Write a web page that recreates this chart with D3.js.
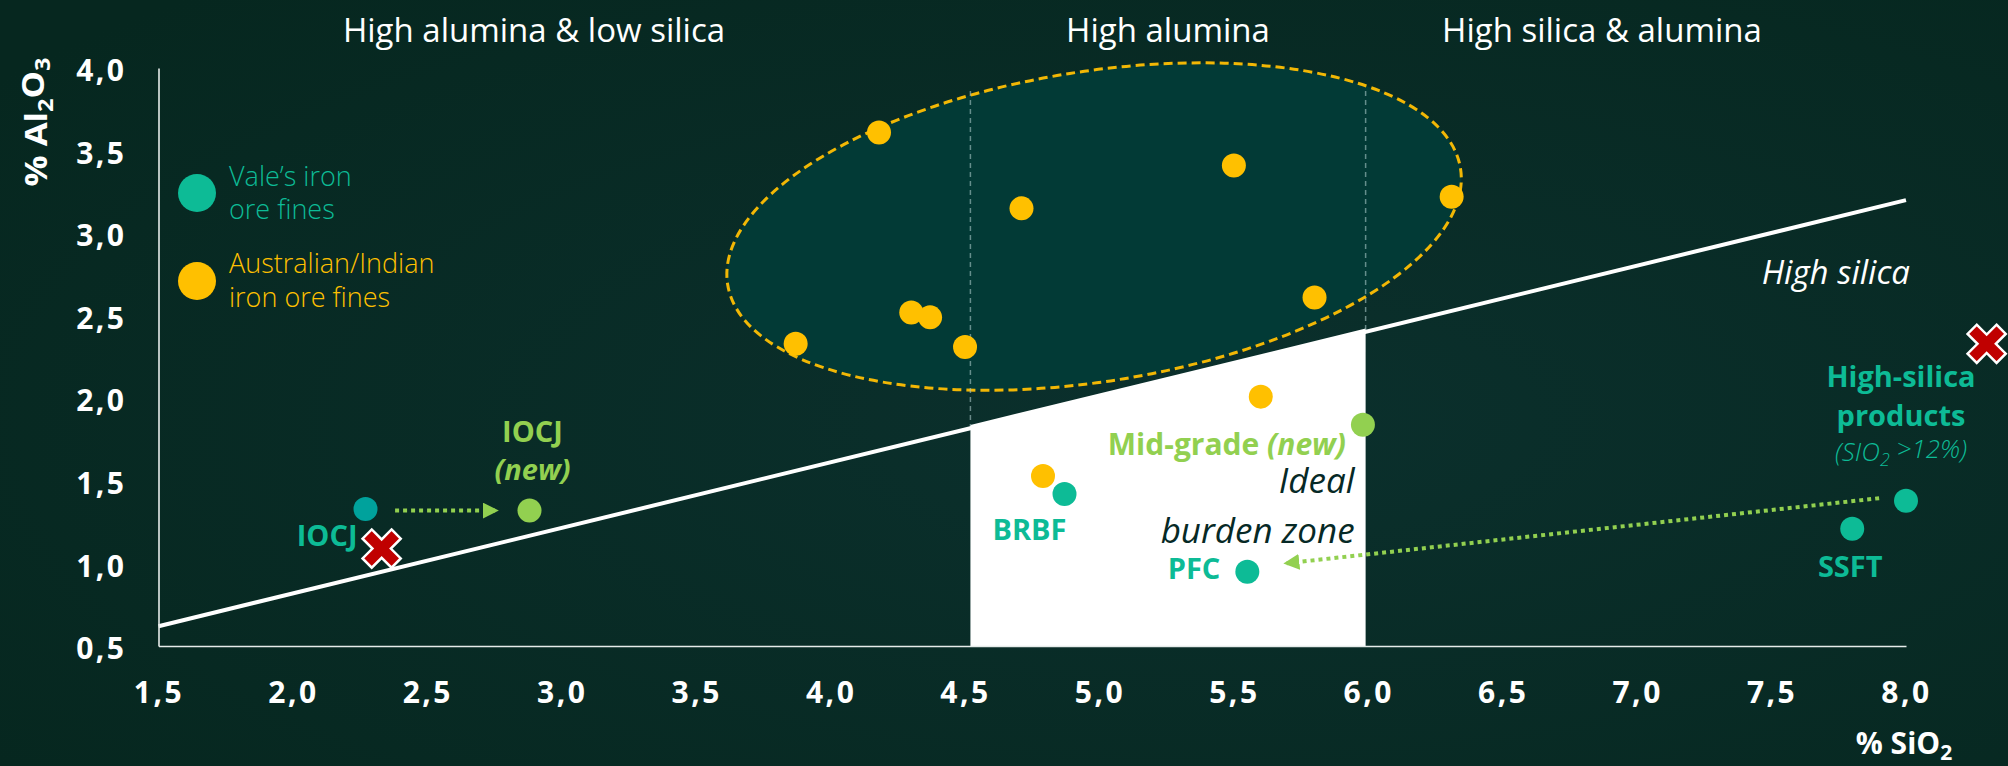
<!DOCTYPE html>
<html><head><meta charset="utf-8">
<script src="https://cdn.jsdelivr.net/npm/d3@7"></script>
<style>
html,body{margin:0;padding:0;background:#082c29;}
svg{display:block;font-family:"Open Sans","Noto Sans",sans-serif;}
</style></head><body>
<svg id="c" width="2008" height="766"></svg>
<script>
// ---------- data ----------
const xTicks = [1.5,2.0,2.5,3.0,3.5,4.0,4.5,5.0,5.5,6.0,6.5,7.0,7.5,8.0];
const yTicks = [0.5,1.0,1.5,2.0,2.5,3.0,3.5,4.0];
const zoneTitles = ["High alumina & low silica","High alumina","High silica & alumina"];
// Vale's iron ore fines  [SiO2, Al2O3, name]
const valeFines = [
  [4.87,1.42,"BRBF"],
  [5.55,0.95,"PFC"],
  [7.80,1.21,"SSFT"],
  [8.00,1.38,"High-silica"]
];
const valeIOCJ = [[2.27,1.33,"IOCJ"]];
// Australian/Indian iron ore fines
const ausIndFines = [
  [4.18,3.61],[4.71,3.15],[5.50,3.41],[6.31,3.22],[5.80,2.61],
  [4.30,2.52],[4.37,2.49],[3.87,2.33],[4.50,2.31],[5.60,2.01],[4.79,1.53]
];
// new Vale products
const newProducts = [[2.88,1.32,"IOCJ"],[5.98,1.84,"Mid-grade"]];
// red crosses
const crosses = [[2.33,1.09],[8.30,2.33]];
// high-silica boundary line
const boundary = [[1.5,0.62],[8.0,3.20]];
// ideal burden zone SiO2 limits
const idealSiO2 = [4.52,5.99];
const dashedTop = 3.86;
// arrows [from, to]
const arrows = [
  [[2.38,1.32],[2.76,1.32]],
  [[7.90,1.395],[5.69,1.00]]
];
// ellipse around Australian/Indian cluster (center in data units)
const ellipseCenter = [4.98,3.04];

// ---------- colours ----------
const C = {ell:"#023a36", teal:"#0dbb96", tealDark:"#00a29c",
  yellow:"#ffc000", green:"#92d050", red:"#c00000", dark:"#062926", white:"#ffffff"};

const svg = d3.select("#c");
const defs = svg.append("defs");
const rg = defs.append("radialGradient").attr("id","bgg").attr("cx","60%").attr("cy","55%").attr("r","75%");
rg.append("stop").attr("offset","0%").attr("stop-color","#0b302d");
rg.append("stop").attr("offset","100%").attr("stop-color","#06271f");
svg.append("rect").attr("width",2008).attr("height",766).attr("fill","url(#bgg)");

const x = d3.scaleLinear().domain([1.5,8.0]).range([158.5,1906]);
const y = d3.scaleLinear().domain([0.5,4.0]).range([646,68]);
const fmt = d3.formatLocale({decimal:",",thousands:".",grouping:[3],currency:["",""]}).format(".1f");
const lineY = v => boundary[0][1] + (v-boundary[0][0])*(boundary[1][1]-boundary[0][1])/(boundary[1][0]-boundary[0][0]);

// ellipse
svg.append("ellipse")
  .attr("cx",0).attr("cy",0).attr("rx",371).attr("ry",155)
  .attr("transform",`translate(${x(ellipseCenter[0])},${y(ellipseCenter[1])}) rotate(-9)`)
  .attr("fill",C.ell).attr("stroke","#f2b705").attr("stroke-width",3).attr("stroke-dasharray","9 5");

// ideal zone
const zonePts = [[idealSiO2[0],0.5],[idealSiO2[0],lineY(idealSiO2[0])+0.02],[idealSiO2[1],lineY(idealSiO2[1])+0.02],[idealSiO2[1],0.5]];
svg.append("path").attr("d",d3.line().x(d=>x(d[0])).y(d=>y(d[1]))(zonePts)+"Z").attr("fill",C.white);

// dashed verticals
svg.selectAll(".vd").data(idealSiO2).join("line")
  .attr("x1",d=>x(d)).attr("x2",d=>x(d)).attr("y1",y(dashedTop)).attr("y2",d=>y(lineY(d)))
  .attr("stroke","#a9c6c6").attr("stroke-opacity",0.6).attr("stroke-width",1.5).attr("stroke-dasharray","5 4");

// boundary line
svg.append("path").attr("d",d3.line().x(d=>x(d[0])).y(d=>y(d[1]))(boundary))
  .attr("stroke",C.white).attr("stroke-width",4).attr("fill","none");

// axes
const ax = svg.append("g").attr("transform","translate(0,646)")
  .call(d3.axisBottom(x).tickValues(xTicks).tickFormat(fmt).tickSize(0).tickSizeOuter(0).tickPadding(36));
const ay = svg.append("g").attr("transform","translate(158.5,0)")
  .call(d3.axisLeft(y).tickValues(yTicks).tickFormat(fmt).tickSize(0).tickSizeOuter(0).tickPadding(32));
[ax,ay].forEach(g=>{
  g.select(".domain").attr("stroke","#e6ecea").attr("stroke-width",1.6);
  g.selectAll("text").attr("fill",C.white).attr("font-size",30).attr("font-weight",700)
    .attr("letter-spacing",2.5).attr("font-family",'"Open Sans",sans-serif');
});
ay.selectAll("text").attr("dy","0.42em");

// arrows
defs.append("marker").attr("id","ah").attr("viewBox","0 0 10 10").attr("refX",9).attr("refY",5)
  .attr("markerWidth",16).attr("markerHeight",16).attr("markerUnits","userSpaceOnUse").attr("orient","auto")
  .append("path").attr("d","M0,0L10,5L0,10Z").attr("fill",C.green);
svg.selectAll(".arr").data(arrows).join("line")
  .attr("x1",d=>x(d[0][0])).attr("y1",d=>y(d[0][1])).attr("x2",d=>x(d[1][0])).attr("y2",d=>y(d[1][1]))
  .attr("stroke",C.green).attr("stroke-width",4).attr("stroke-dasharray","4 4").attr("marker-end","url(#ah)");

// dots
const dot = (data,fill,r=12)=>svg.append("g").selectAll("circle").data(data).join("circle")
  .attr("cx",d=>x(d[0])).attr("cy",d=>y(d[1])).attr("r",r).attr("fill",fill);
dot(ausIndFines,C.yellow);
dot(valeFines,C.teal);
dot(valeIOCJ,C.tealDark);
dot(newProducts,C.green);

// crosses
const L=20.5,w=6.5;
const plus = `M${-w},${-L}H${w}V${-w}H${L}V${w}H${w}V${L}H${-w}V${w}H${-L}V${-w}H${-w}Z`;
svg.selectAll(".cr").data(crosses).join("path")
  .attr("d",plus).attr("transform",d=>`translate(${x(d[0])},${y(d[1])}) rotate(45)`)
  .attr("fill",C.red).attr("stroke",C.white).attr("stroke-width",2.5).attr("stroke-linejoin","miter");

// ---------- texts ----------
const T = (px,py,txt,o={})=>svg.append("text").attr("x",px).attr("y",py).attr("dy","0.35em")
  .attr("text-anchor",o.anchor||"middle").attr("fill",o.fill||C.white)
  .attr("font-size",o.size||29).attr("font-weight",o.weight||400).attr("font-style",o.style||"normal").text(txt);

// zone titles
T(534,30,zoneTitles[0],{size:33});
T(1168,30,zoneTitles[1],{size:33});
T(1602,30,zoneTitles[2],{size:33});
T(1910,272,"High silica",{anchor:"end",size:33,style:"italic"});

// legend
svg.append("circle").attr("cx",197).attr("cy",193).attr("r",19).attr("fill",C.teal);
svg.append("circle").attr("cx",197).attr("cy",281).attr("r",19).attr("fill",C.yellow);
T(229,177,"Vale’s iron",{anchor:"start",fill:C.teal,size:27,weight:300});
T(229,210,"ore fines",{anchor:"start",fill:C.teal,size:27,weight:300});
T(229,264,"Australian/Indian",{anchor:"start",fill:C.yellow,size:27,weight:300});
T(229,298,"iron ore fines",{anchor:"start",fill:C.yellow,size:27,weight:300});

// point labels
const px = d=>x(d[0]), py = d=>y(d[1]);
T(px(valeIOCJ[0])-8,py(valeIOCJ[0])+27,valeIOCJ[0][2],{anchor:"end",fill:C.teal,weight:700});
T(px(valeFines[0])-35,py(valeFines[0])+36,valeFines[0][2],{fill:C.teal,weight:700});
T(px(valeFines[1])-27,py(valeFines[1])-3,valeFines[1][2],{anchor:"end",fill:C.teal,weight:700});
T(px(valeFines[2])-2,py(valeFines[2])+38,valeFines[2][2],{fill:C.teal,weight:700});
T(px(valeFines[3])-5,py(valeFines[3])-124,"High-silica",{fill:C.teal,weight:700,size:29});
T(px(valeFines[3])-5,py(valeFines[3])-85,"products",{fill:C.teal,weight:700,size:29});
const sil = svg.append("text").attr("x",px(valeFines[3])-5).attr("y",py(valeFines[3])-49).attr("dy","0.35em")
  .attr("text-anchor","middle").attr("fill",C.teal).attr("font-size",26).attr("font-style","italic").attr("font-weight",300);
sil.append("tspan").text("(SIO");
sil.append("tspan").attr("font-size",18).attr("dy","0.3em").text("2");
sil.append("tspan").attr("dy","-0.3em").text(" >12%)");

T(px(newProducts[0])+3,py(newProducts[0])-79,newProducts[0][2],{fill:C.green,weight:700});
T(px(newProducts[0])+3,py(newProducts[0])-41,"(new)",{fill:C.green,weight:700,style:"italic"});
const mg = svg.append("text").attr("x",px(newProducts[1])-17).attr("y",py(newProducts[1])+20).attr("dy","0.35em")
  .attr("text-anchor","end").attr("fill",C.green).attr("font-size",30).attr("font-weight",700);
mg.append("tspan").text("Mid-grade  ");
mg.append("tspan").attr("font-style","italic").text("(new)");

T(x(idealSiO2[1])-11,481,"Ideal",{anchor:"end",fill:C.dark,size:35,style:"italic"});
T(x(idealSiO2[1])-11,531,"burden zone",{anchor:"end",fill:C.dark,size:35,style:"italic"});

// axis titles
const xt = svg.append("text").attr("x",1904).attr("y",743).attr("dy","0.35em").attr("text-anchor","middle")
  .attr("fill",C.white).attr("font-size",30).attr("font-weight",700);
xt.append("tspan").text("% SiO");
xt.append("tspan").attr("font-size",21).attr("dy","0.3em").text("2");
const yt = svg.append("text").attr("transform","translate(36,122) rotate(-90)").attr("dy","0.35em").attr("text-anchor","middle")
  .attr("fill",C.white).attr("font-size",31).attr("font-weight",700)
  .attr("textLength",129).attr("lengthAdjust","spacingAndGlyphs");
yt.append("tspan").text("% Al");
yt.append("tspan").attr("font-size",21).attr("dy","0.3em").text("2");
yt.append("tspan").attr("dy","-0.3em").text("O");
yt.append("tspan").attr("font-size",21).attr("dy","0.3em").text("3");
</script>
</body></html>
